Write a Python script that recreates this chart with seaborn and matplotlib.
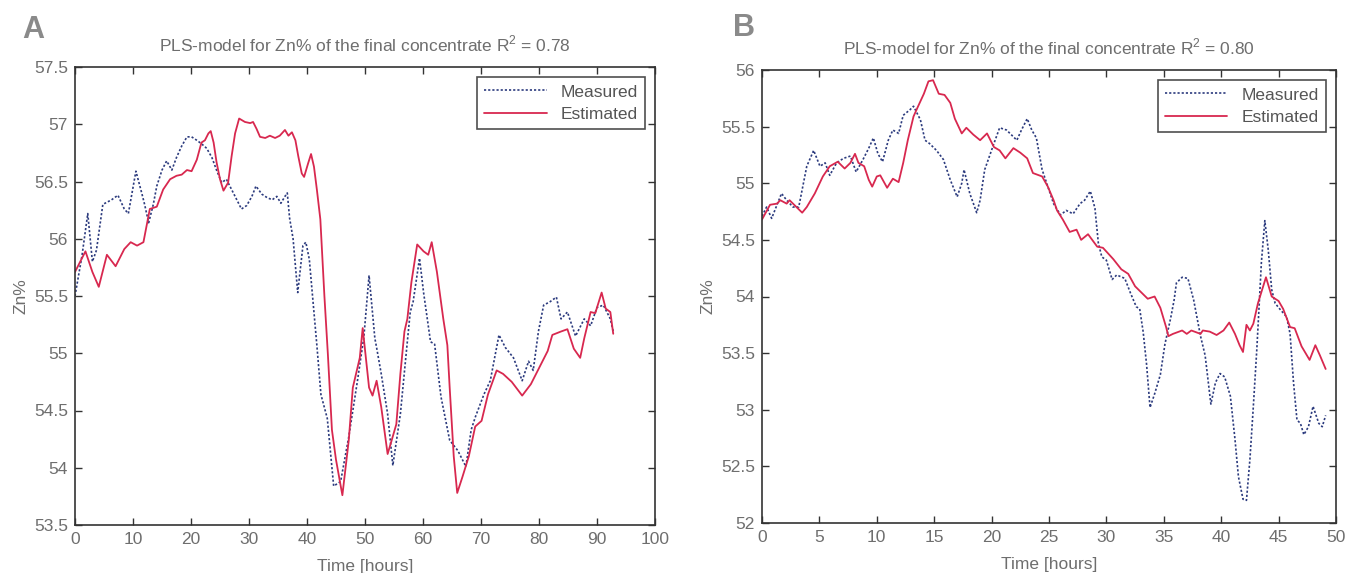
import numpy as np
import pandas as pd
import matplotlib
matplotlib.use("Agg")
import matplotlib.pyplot as plt
import seaborn as sns

# ---------------- Panel A data ----------------
a_meas_t = [0, 1.2, 2.2, 3.0, 3.7, 4.8, 6.3, 7.4, 8.5, 9.2, 10.5, 11.5, 12.0, 12.7, 13.5, 14.1, 15.0,
            15.8, 16.7, 17.5, 18.4, 19.3, 20.1, 21.0, 21.8, 22.7, 23.6, 24.4, 25.3, 26.1, 27.0, 27.9,
            28.7, 29.6, 30.5, 31.2, 32.2, 33.1, 34.0, 34.8, 35.5, 36.2, 36.6, 37.0, 37.6, 38.4, 39.3,
            39.8, 40.4, 41.7, 42.4, 43.5, 44.6, 45.2, 45.8, 47.2, 48.7, 49.8, 50.7, 51.7, 52.0, 52.8,
            53.9, 54.8, 56.1, 57.2, 57.8, 58.3, 59.4, 60.1, 61.3, 62.0, 63.1, 64.6, 66.0, 67.4, 68.3,
            69.0, 70.5, 71.6, 73.1, 74.2, 75.6, 77.1, 78.2, 79.0, 79.9, 80.8, 81.9, 83.0, 83.8, 84.9,
            86.3, 87.8, 88.9, 90.0, 91.1, 92.3, 92.8]
a_meas_v = [55.5, 55.85, 56.22, 55.8, 55.9, 56.3, 56.34, 56.38, 56.26, 56.22, 56.59, 56.4, 56.3, 56.14,
            56.3, 56.46, 56.6, 56.68, 56.6, 56.71, 56.81, 56.89, 56.89, 56.86, 56.83, 56.79, 56.71, 56.6,
            56.49, 56.52, 56.43, 56.34, 56.26, 56.29, 56.37, 56.46, 56.39, 56.36, 56.34, 56.37, 56.31,
            56.37, 56.4, 56.18, 56.0, 55.53, 55.94, 55.97, 55.82, 55.07, 54.64, 54.43, 53.84, 53.86,
            53.88, 54.27, 54.76, 55.14, 55.68, 55.13, 55.05, 54.82, 54.47, 54.02, 54.47, 55.05, 55.36,
            55.45, 55.83, 55.53, 55.1, 55.08, 54.62, 54.24, 54.15, 54.01, 54.33, 54.44, 54.64, 54.76,
            55.16, 55.05, 54.96, 54.76, 54.93, 54.85, 55.19, 55.42, 55.45, 55.49, 55.3, 55.36, 55.15,
            55.3, 55.24, 55.4, 55.42, 55.3, 55.19]

a_est_t = [0, 1.8, 3.0, 4.1, 5.5, 7.0, 8.5, 9.6, 10.7, 11.8, 12.9, 14.1, 15.2, 16.4, 17.5, 18.4, 19.3,
           20.1, 21.0, 21.8, 22.4, 23.0, 23.4, 23.9, 24.4, 25.0, 25.6, 26.4, 27.0, 27.6, 28.3, 29.3,
           30.2, 30.7, 31.3, 31.9, 32.8, 33.6, 34.5, 35.3, 36.2, 36.8, 37.4, 38.0, 38.5, 39.1, 39.5,
           40.2, 40.7, 41.2, 41.7, 42.3, 43.0, 43.6, 44.3, 45.0, 46.1, 47.2, 47.9, 49.1, 49.6, 50.7,
           51.3, 52.0, 52.8, 53.9, 54.6, 55.4, 56.1, 56.8, 57.3, 58.0, 59.0, 60.1, 60.9, 61.5, 62.4,
           63.5, 64.2, 64.6, 65.3, 65.9, 66.8, 67.9, 69.0, 70.1, 71.2, 72.7, 73.8, 75.3, 77.1, 78.6,
           80.1, 81.5, 82.3, 83.8, 84.9, 86.0, 87.1, 87.8, 88.9, 89.7, 90.8, 91.5, 92.3, 92.8]
a_est_v = [55.71, 55.89, 55.71, 55.58, 55.86, 55.76, 55.91, 55.97, 55.94, 55.97, 56.26, 56.28, 56.43,
           56.52, 56.55, 56.56, 56.6, 56.59, 56.69, 56.84, 56.86, 56.92, 56.94, 56.84, 56.67, 56.52,
           56.42, 56.49, 56.72, 56.92, 57.05, 57.02, 57.01, 57.02, 56.96, 56.89, 56.88, 56.9, 56.88,
           56.9, 56.95, 56.9, 56.93, 56.86, 56.72, 56.57, 56.54, 56.66, 56.74, 56.63, 56.43, 56.17,
           55.5, 54.99, 54.33, 54.07, 53.76, 54.24, 54.7, 54.96, 55.22, 54.7, 54.63, 54.76, 54.53,
           54.12, 54.24, 54.38, 54.82, 55.19, 55.3, 55.62, 55.95, 55.89, 55.86, 55.97, 55.71, 55.3,
           55.07, 54.7, 54.1, 53.78, 53.92, 54.1, 54.36, 54.41, 54.64, 54.85, 54.82, 54.75, 54.63,
           54.73, 54.88, 55.02, 55.16, 55.19, 55.21, 55.04, 54.96, 55.13, 55.36, 55.35, 55.53, 55.39,
           55.36, 55.17]

# ---------------- Panel B data ----------------
b_meas_t = [0, 0.4, 0.84, 1.7, 2.15, 2.7, 3.2, 3.9, 4.5, 5.05, 5.5, 5.9, 6.5, 7.1, 7.7, 8.2, 8.8, 9.3,
            9.7, 10.1, 10.5, 11.0, 11.4, 11.9, 12.3, 12.9, 13.2, 13.8, 14.2, 14.6, 15.2, 15.8, 16.4,
            17.0, 17.4, 17.6, 18.1, 18.7, 19.0, 19.4, 20.2, 20.7, 21.3, 22.2, 22.6, 23.1, 23.5, 23.9,
            24.4, 24.9, 25.4, 26.0, 26.5, 27.1, 27.7, 28.1, 28.6, 29.0, 29.3, 29.6, 30.0, 30.5, 30.9,
            31.6, 32.1, 32.6, 32.9, 33.2, 33.5, 33.8, 34.2, 34.7, 35.1, 35.6, 35.9, 36.1, 36.6, 37.1,
            37.6, 38.2, 38.6, 39.1, 39.5, 39.9, 40.3, 40.8, 41.2, 41.5, 41.9, 42.2, 42.5, 42.8, 43.1,
            43.3, 43.5, 43.8, 44.1, 44.4, 44.7, 45.1, 45.7, 46.0, 46.3, 46.6, 46.9, 47.2, 47.6, 48.0,
            48.5, 48.8, 49.1]
b_meas_v = [54.71, 54.79, 54.69, 54.91, 54.85, 54.79, 54.79, 55.15, 55.29, 55.15, 55.18, 55.07, 55.18,
            55.22, 55.24, 55.1, 55.21, 55.31, 55.4, 55.26, 55.19, 55.38, 55.47, 55.44, 55.6, 55.65,
            55.68, 55.56, 55.38, 55.35, 55.29, 55.21, 55.03, 54.88, 55.0, 55.12, 54.91, 54.74, 54.85,
            55.12, 55.35, 55.49, 55.47, 55.38, 55.47, 55.57, 55.47, 55.4, 55.12, 54.97, 54.82, 54.72,
            54.76, 54.73, 54.82, 54.85, 54.93, 54.78, 54.47, 54.35, 54.32, 54.15, 54.19, 54.16, 54.03,
            53.91, 53.89, 53.69, 53.4, 53.02, 53.14, 53.31, 53.58, 53.81, 53.97, 54.12, 54.17, 54.16,
            53.97, 53.65, 53.48, 53.05, 53.24, 53.32, 53.29, 53.12, 52.74, 52.41, 52.21, 52.2, 52.56,
            53.03, 53.53, 53.91, 54.3, 54.67, 54.41, 54.06, 53.94, 53.89, 53.82, 53.67, 53.24, 52.91,
            52.88, 52.78, 52.85, 53.03, 52.88, 52.85, 52.95]

b_est_t = [0, 0.7, 1.3, 1.6, 2.15, 2.4, 3.0, 3.5, 3.9, 4.6, 5.3, 5.9, 6.6, 7.2, 7.7, 8.1, 8.4, 8.9, 9.3,
           9.6, 10.0, 10.3, 10.9, 11.4, 11.9, 12.3, 12.7, 13.2, 13.6, 14.1, 14.5, 14.9, 15.4, 15.9,
           16.4, 16.8, 17.4, 17.8, 18.4, 19.0, 19.6, 20.2, 20.7, 21.2, 21.9, 22.5, 23.1, 23.6, 24.4,
           24.9, 25.4, 25.7, 26.2, 26.8, 27.4, 27.8, 28.4, 29.2, 29.7, 30.6, 31.3, 31.9, 32.5, 33.1,
           33.6, 34.2, 34.7, 35.2, 35.4, 35.8, 36.6, 37.0, 37.4, 38.2, 38.4, 39.0, 39.6, 40.2, 40.7,
           41.2, 41.6, 41.9, 42.2, 42.5, 42.8, 43.2, 43.9, 44.4, 45.0, 45.4, 46.0, 46.4, 47.0, 47.7,
           48.2, 48.6, 49.1]
b_est_v = [54.68, 54.81, 54.82, 54.85, 54.82, 54.85, 54.79, 54.74, 54.79, 54.91, 55.06, 55.15, 55.19,
           55.13, 55.18, 55.26, 55.18, 55.15, 55.03, 54.97, 55.06, 55.07, 54.96, 55.04, 55.01, 55.18,
           55.38, 55.59, 55.68, 55.79, 55.9, 55.91, 55.79, 55.78, 55.71, 55.57, 55.44, 55.49, 55.43,
           55.38, 55.44, 55.32, 55.29, 55.22, 55.31, 55.27, 55.22, 55.09, 55.06, 54.97, 54.85, 54.76,
           54.68, 54.57, 54.59, 54.5, 54.55, 54.44, 54.43, 54.33, 54.24, 54.2, 54.09, 54.03, 53.98,
           54.0, 53.9, 53.73, 53.65, 53.67, 53.7, 53.67, 53.7, 53.67, 53.7, 53.69, 53.66, 53.7, 53.77,
           53.67, 53.57, 53.51, 53.75, 53.7, 53.76, 53.94, 54.17, 54.0, 53.96, 53.89, 53.73, 53.72,
           53.56, 53.44, 53.57, 53.48, 53.36]

titles = ["PLS-model for Zn% of the final concentrate R$^2$ = 0.78",
          "PLS-model for Zn% of the final concentrate R$^2$ = 0.80"]
panel_letters = ["A", "B"]
xlabel = "Time [hours]"
ylabel = "Zn%"
legend_labels = ["Measured", "Estimated"]

sns.set_theme(style="ticks")
plt.rcParams["font.family"] = ["Liberation Sans", "DejaVu Sans"]
plt.rcParams["mathtext.fontset"] = "custom"
plt.rcParams["mathtext.rm"] = "Liberation Sans"

TXT = "#6e6e6e"
BLUE = "#2c3b7e"
RED = "#d8284f"

fig = plt.figure(figsize=(13.45, 5.73), dpi=100)
axA = fig.add_axes([75 / 1345, 1 - 525 / 573, 580 / 1345, 458 / 573])
axB = fig.add_axes([762 / 1345, 1 - 523 / 573, 574 / 1345, 453 / 573])

panels = [
    (axA, a_meas_t, a_meas_v, a_est_t, a_est_v, (0, 100), np.arange(0, 101, 10),
     (53.5, 57.5), np.arange(53.5, 57.51, 0.5)),
    (axB, b_meas_t, b_meas_v, b_est_t, b_est_v, (0, 50), np.arange(0, 51, 5),
     (52, 56), np.arange(52, 56.01, 0.5)),
]

for i, (ax, mt, mv, et, ev, xl, xt, yl, yt) in enumerate(panels):
    dm = pd.DataFrame({"t": mt, "v": mv})
    de = pd.DataFrame({"t": et, "v": ev})
    sns.lineplot(data=dm, x="t", y="v", ax=ax, color=BLUE, lw=1.2, ls=(0, (1.3, 1.2)),
                 label=legend_labels[0], sort=False)
    sns.lineplot(data=de, x="t", y="v", ax=ax, color=RED, lw=1.3, label=legend_labels[1], sort=False)
    ax.set_xlim(*xl)
    ax.set_ylim(*yl)
    ax.set_xticks(xt)
    ax.set_yticks(yt)
    ax.set_xticklabels([f"{v:g}" for v in xt])
    ax.set_yticklabels([f"{v:g}" for v in yt])
    ax.tick_params(direction="in", length=5, width=1, top=True, right=True,
                   labelsize=12.5, labelcolor=TXT, color="#333333", pad=5)
    for s in ax.spines.values():
        s.set_visible(True)
        s.set_color("#333333")
        s.set_linewidth(1.2)
    ax.set_xlabel(xlabel, fontsize=12.5, color=TXT, labelpad=9)
    ax.set_ylabel(ylabel, fontsize=12.5, color=TXT, labelpad=4)
    ax.set_title(titles[i], fontsize=12.5, color=TXT, pad=11)
    leg = ax.legend(loc="upper right", fontsize=12.5, frameon=True, fancybox=False,
                    edgecolor="#222222", handlelength=3.6, borderpad=0.4, labelspacing=0.4,
                    borderaxespad=0.6)
    leg.get_frame().set_linewidth(1.2)
    for t in leg.get_texts():
        t.set_color("#555555")

fig.text(22 / 1345, 1 - 30 / 573, panel_letters[0], fontsize=22, fontweight="bold", color="#8a8a8a",
         va="center", ha="left")
fig.text(733 / 1345, 1 - 28 / 573, panel_letters[1], fontsize=22, fontweight="bold", color="#8a8a8a",
         va="center", ha="left")

fig.savefig("out.png", dpi=100)
